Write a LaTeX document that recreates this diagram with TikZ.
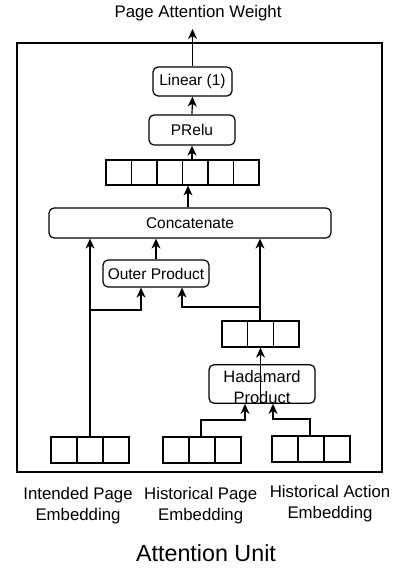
\documentclass[tikz,border=0pt]{standalone}
\usepackage{fontspec}
\setmainfont{Liberation Sans}
\usetikzlibrary{arrows.meta,calc}
\tikzset{
  pb/.style={draw, rounded corners=5pt, inner sep=0pt, font=\fontsize{15.5}{18}\selectfont},
  vecthree/.style={draw, inner sep=0pt, minimum width=78pt, minimum height=26pt,
    path picture={\foreach \i in {1,2} {\draw ($(path picture bounding box.south west)!\i/3!(path picture bounding box.south east)$) -- ($(path picture bounding box.north west)!\i/3!(path picture bounding box.north east)$);}}},
  vecsix/.style={draw, inner sep=0pt, minimum width=153pt, minimum height=25pt,
    path picture={\foreach \i in {1,...,5} {\draw ($(path picture bounding box.south west)!\i/6!(path picture bounding box.south east)$) -- ($(path picture bounding box.north west)!\i/6!(path picture bounding box.north east)$);}}},
  arr/.style={-{Stealth[length=10pt,width=9pt,inset=3pt]}},
  lab/.style={align=center, font=\fontsize{16.8}{20.5}\selectfont},
}
\begin{document}
\begin{tikzpicture}[x=1pt,y=-1pt,line width=1.2pt]
\useasboundingbox (0,0) rectangle (396,571);
% frame
\draw (17,43) rectangle (382,472);
% title
\node[lab, anchor=base] (title) at (198,17) {Page Attention Weight};
\coordinate (out) at (192.5,29);
% boxes
\node[pb, minimum width=79pt, minimum height=29pt] (linear) at (192.5,81.5) {Linear (1)};
\node[pb, minimum width=86pt, minimum height=30pt] (prelu) at (192,130) {PRelu};
\node[vecsix] (vsix) at (182.5,172.5) {};
\node[pb, minimum width=282pt, minimum height=30pt] (concat) at (190,223) {Concatenate};
\node[pb, minimum width=106pt, minimum height=27pt] (op) at (156,273.5) {Outer Product};
\node[vecthree, minimum width=77pt] (hv) at (260.5,334) {};
\node[pb, minimum width=106pt, minimum height=38pt, align=center, font=\fontsize{16.5}{20.3}\selectfont] (had) at (262,384) {\rule{0pt}{18pt}Hadamard\\Product};
\node[vecthree] (ivec) at (90,450) {};
\node[vecthree] (pvec) at (202,450) {};
\node[vecthree] (avec) at (311,449) {};
% labels
\node[lab] (lint) at (78,505.5) {Intended Page\\Embedding};
\node[lab] (lpage) at (200.7,505.5) {Historical Page\\Embedding};
\node[lab] (lact) at (330,503.5) {Historical Action\\Embedding};
\node[font=\fontsize{23.3}{28}\selectfont, anchor=base] (unit) at (206,561.7) {Attention Unit};
% helper coordinates
\coordinate (cx) at (188,0);
\coordinate (bl) at (90,310);
\coordinate (blr) at (141,310);
\coordinate (br) at (260,307);
\coordinate (brl) at (182,307);
\coordinate (pp) at (201,420);
\coordinate (ppr) at (245,420);
\coordinate (aa) at (310,419);
\coordinate (aal) at (273,419);
% connectors
\draw[arr] (linear.north) -- (out);
\draw[arr] (prelu.north) -- (linear.south);
\draw[arr] (prelu.south |- vsix.north) -- (prelu.south);
\draw[arr] (cx |- concat.north) -- (cx |- vsix.south);
\draw[arr] (op.north) -- (op.north |- concat.south);
\draw[arr] (ivec.north) -- (ivec.north |- concat.south);
\draw[arr] (bl) -- (blr) -- (blr |- op.south);
\draw[arr] (hv.north -| br) -- (br |- concat.south);
\draw[arr] (br) -- (brl) -- (brl |- op.south);
\draw[arr] (had.south -| hv.north) -- (hv.south);
\draw[arr] (pvec.north -| pp) -- (pp) -- (ppr) -- (ppr |- had.south);
\draw[arr] (avec.north -| aa) -- (aa) -- (aal) -- (aal |- had.south);
\end{tikzpicture}
\end{document}
